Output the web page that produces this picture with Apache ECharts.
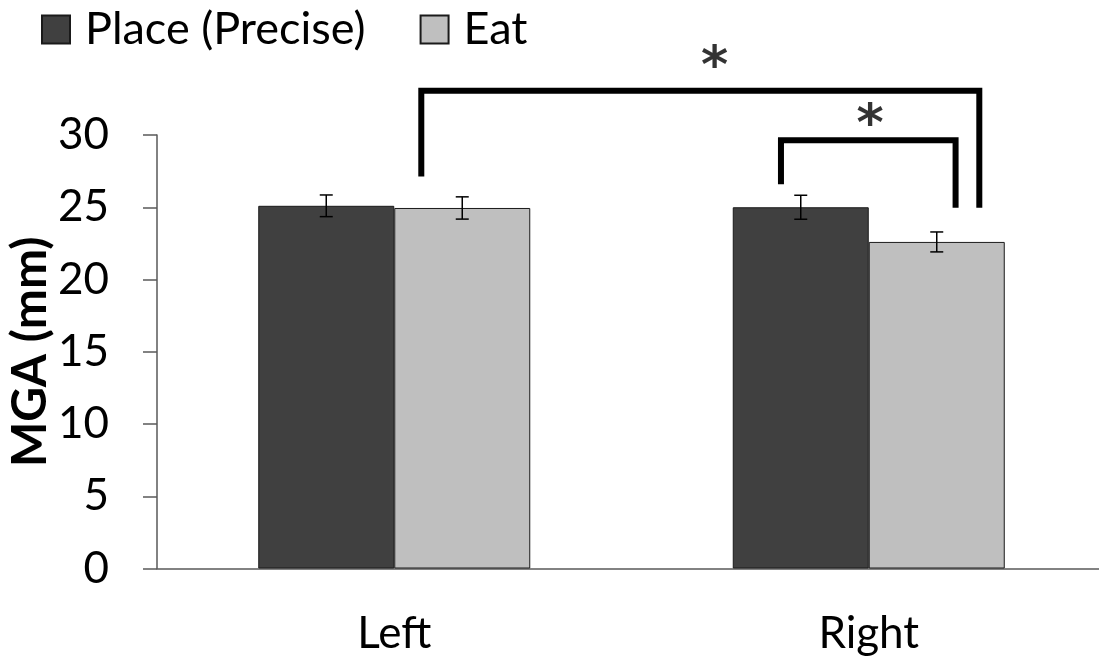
<!DOCTYPE html>
<html>
<head>
<meta charset="utf-8">
<script src="https://cdn.jsdelivr.net/npm/echarts@6/dist/echarts.min.js"></script>
<style>
html,body{margin:0;padding:0;background:#fff;}
#chart{width:1099px;height:661px;}
</style>
</head>
<body>
<div id="chart"></div>
<script>
// ---- data ----
const categories = ['Left', 'Right'];
const seriesNames = ['Place (Precise)', 'Eat'];
const placeValues = [25.1, 25.0];
const placeErrors = [0.75, 0.83];
const eatValues = [24.95, 22.6];
const eatErrors = [0.77, 0.69];
const yTicks = { min: 0, max: 30, interval: 5 };
// significance brackets: [x (category units), y (mm)] path points
const bracketLeftRight = [[0.057, 27.13], [0.057, 33.06], [1.233, 33.06], [1.233, 24.96]];
const bracketRightPair = [[0.815, 26.6], [0.815, 29.63], [1.183, 29.63], [1.183, 24.96]];
const starMarks = [[0.675, 35.48], [1.003, 31.5]];

// ---- style ----
const FONT = 'Lato';
const BAR_W = 136;
const DARK = '#404040';
const LIGHT = '#bfbfbf';

function errorSeries(values, errors, side) {
  return {
    type: 'custom',
    xAxisIndex: 0,
    yAxisIndex: 0,
    silent: true,
    z: 5,
    data: values.map((v, i) => [i, v, errors[i]]),
    renderItem: function (params, api) {
      const idx = api.value(0), v = api.value(1), e = api.value(2);
      const c = api.coord([idx, v]);
      const x = c[0] + side * BAR_W / 2;
      const yHi = api.coord([idx, v + e])[1];
      const yLo = api.coord([idx, v - e])[1];
      const cw = 6.5;
      const st = { stroke: '#000', lineWidth: 1.5 };
      return {
        type: 'group',
        children: [
          { type: 'line', shape: { x1: x, y1: yHi, x2: x, y2: yLo }, style: st },
          { type: 'line', shape: { x1: x - cw, y1: yHi, x2: x + cw, y2: yHi }, style: st },
          { type: 'line', shape: { x1: x - cw, y1: yLo, x2: x + cw, y2: yLo }, style: st }
        ]
      };
    }
  };
}

function bracketSeries(points) {
  return {
    type: 'line',
    xAxisIndex: 1,
    yAxisIndex: 0,
    data: points,
    clip: false,
    symbol: 'none',
    silent: true,
    z: 6,
    lineStyle: { color: '#000', width: 6, cap: 'butt', join: 'miter' }
  };
}

const chart = echarts.init(document.getElementById('chart'), null, { renderer: 'canvas' });
chart.setOption({
  animation: false,
  backgroundColor: '#fff',
  textStyle: { fontFamily: FONT },
  legend: {
    data: seriesNames,
    left: 36,
    top: 2,
    itemWidth: 28,
    itemHeight: 28,
    itemGap: 54,
    icon: 'rect',
    textStyle: { fontFamily: FONT, fontSize: 45, color: '#000', padding: [0, 0, 0, 10] }
  },
  grid: { left: 157, top: 135, width: 949, height: 433.5, containLabel: false, outerBoundsMode: 'none' },
  xAxis: [
    {
      type: 'category',
      data: categories,
      axisLine: { onZero: false, lineStyle: { color: '#595959', width: 1.5 } },
      axisTick: { show: false },
      axisLabel: { fontFamily: FONT, fontSize: 44, color: '#000', margin: 43 }
    },
    {
      type: 'value',
      min: -0.5,
      max: 1.5,
      show: false
    }
  ],
  yAxis: {
    type: 'value',
    min: yTicks.min,
    max: yTicks.max,
    interval: yTicks.interval,
    name: 'MGA (mm)',
    nameLocation: 'middle',
    nameGap: 102,
    nameMoveOverlap: false,
    nameTextStyle: { fontFamily: FONT, fontSize: 48, fontWeight: 'bold', color: '#000' },
    axisLine: { show: true, onZero: false, lineStyle: { color: '#595959', width: 1.5 } },
    axisTick: { show: true, length: 14, lineStyle: { color: '#595959', width: 1.5 } },
    axisLabel: { fontFamily: FONT, fontSize: 44, color: '#000', margin: 48 },
    splitLine: { show: false }
  },
  series: [
    {
      name: seriesNames[0],
      type: 'bar',
      barWidth: BAR_W,
      barGap: '0%',
      data: placeValues,
      itemStyle: { color: DARK, borderColor: '#1a1a1a', borderWidth: 1 }
    },
    {
      name: seriesNames[1],
      type: 'bar',
      barWidth: BAR_W,
      barGap: '0%',
      data: eatValues,
      itemStyle: { color: LIGHT, borderColor: '#1a1a1a', borderWidth: 1 }
    },
    errorSeries(placeValues, placeErrors, -1),
    errorSeries(eatValues, eatErrors, 1),
    bracketSeries(bracketLeftRight),
    bracketSeries(bracketRightPair),
    {
      type: 'scatter',
      xAxisIndex: 1,
      yAxisIndex: 0,
      data: starMarks,
      clip: false,
      symbolSize: 1,
      itemStyle: { color: 'rgba(0,0,0,0)' },
      silent: true,
      z: 7,
      label: {
        show: true,
        position: 'inside',
        formatter: '*',
        fontFamily: 'DejaVu Sans',
        fontSize: 52,
        fontWeight: 'bold',
        color: '#000',
        offset: [0, 13]
      }
    }
  ]
});
</script>
</body>
</html>
